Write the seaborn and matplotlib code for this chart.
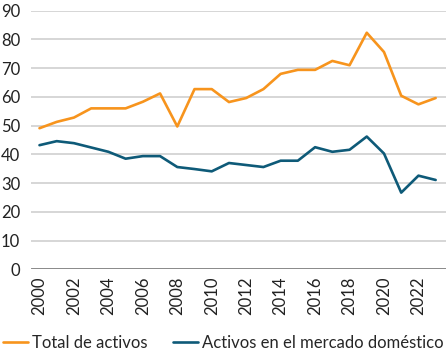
import pandas as pd
import seaborn as sns
import matplotlib.pyplot as plt

years = list(range(2000, 2024))
total_activos = [49.1, 51.3, 52.8, 56.0, 56.0, 56.0, 58.3, 61.2, 49.7, 62.7, 62.7, 58.2,
                 59.6, 62.7, 68.0, 69.4, 69.4, 72.5, 71.0, 82.3, 75.6, 60.4, 57.4, 59.6]
activos_domestico = [43.2, 44.6, 43.9, 42.4, 40.9, 38.5, 39.4, 39.4, 35.6, 34.9, 34.1, 37.0,
                     36.3, 35.6, 37.8, 37.8, 42.5, 40.9, 41.6, 46.2, 40.3, 26.7, 32.6, 31.1]
series_names = ['Total de activos', 'Activos en el mercado doméstico']
xtick_years = list(range(2000, 2023, 2))
yticks = list(range(0, 91, 10))

df = pd.DataFrame({'year': years, series_names[0]: total_activos, series_names[1]: activos_domestico})
df = df.melt(id_vars='year', var_name='serie', value_name='valor')

sns.set_style('white')
plt.rcParams['font.family'] = ['Lato', 'DejaVu Sans']

fig = plt.figure(figsize=(4.46, 3.54), dpi=100)
ax = fig.add_axes([0.07, 0.239, 0.93, 0.731])

for y in yticks[1:]:
    ax.axhline(y, color='#d0d0d0', lw=1.2, zorder=0)
ax.axhline(0, color='#7f7f7f', lw=2, zorder=1)

sns.lineplot(data=df, x='year', y='valor', hue='serie', ax=ax, lw=1.9,
             palette=['#F7941D', '#0E5A78'], legend=True)

ax.set_xlim(1999.52, 2023.6)
ax.set_ylim(0, 90)
ax.set_yticks(yticks)
ax.set_xticks(xtick_years)
ax.set_xticklabels([str(y) for y in xtick_years], rotation=90)
ax.tick_params(axis='both', length=0, labelsize=12, colors='#222222', pad=5)
ax.tick_params(axis='y', pad=8)
ax.set_xlabel('')
ax.set_ylabel('')
sns.despine(ax=ax, left=True, bottom=True)

ax.legend(loc='center left', bbox_to_anchor=(-0.068, -0.285), ncol=2, frameon=False,
          fontsize=12, handlelength=1.5, handletextpad=0.25, columnspacing=1.5,
          borderaxespad=0, borderpad=0)

plt.savefig('out.png', dpi=100)
